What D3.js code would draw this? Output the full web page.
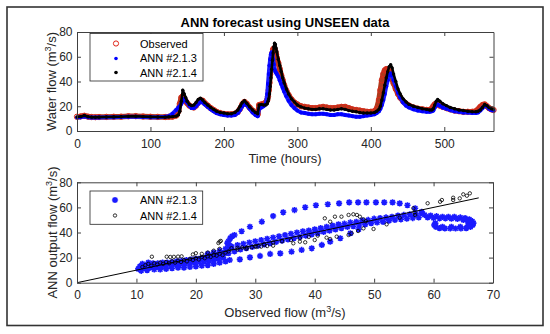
<!DOCTYPE html>
<html>
<head>
<meta charset="utf-8">
<script src="https://cdn.jsdelivr.net/npm/d3@7"></script>
<style>
  body { margin: 0; background: #fff; }
  svg { display: block; font-family: "Liberation Sans", Arial, sans-serif; }
  .axis text { fill: #262626; font-size: 12px; font-family: "Liberation Sans", Arial, sans-serif; }
  .axis line, .axis path { stroke: #404040; }
</style>
</head>
<body>
<svg id="chart" width="550" height="334"></svg>
<script>
// ---- time series (top panel) ----
const hours = [
  0, 5, 10, 15, 20, 25, 30, 40, 50, 60,
  70, 80, 90, 100, 110, 120, 125, 130, 135, 138,
  140, 142, 144, 146, 148, 150, 153, 156, 159, 162,
  165, 168, 171, 174, 178, 182, 186, 190, 195, 200,
  205, 210, 215, 219, 222, 225, 228, 231, 235, 239,
  243, 246, 248, 251, 254, 257, 259, 260, 261, 262,
  263, 264, 265, 266, 267, 268, 269, 270, 271, 272,
  274, 276, 278, 280, 282, 285, 288, 292, 296, 300,
  305, 310, 315, 320, 325, 330, 335, 340, 345, 350,
  355, 360, 365, 370, 375, 380, 385, 390, 395, 400,
  405, 408, 411, 413, 415, 417, 419, 421, 423, 425,
  427, 429, 431, 434, 437, 440, 444, 448, 452, 458,
  464, 470, 476, 480, 483, 485, 487, 489, 491, 494,
  498, 503, 508, 514, 520, 526, 532, 538, 543, 546,
  549, 552, 555, 558, 561, 564, 567
];

const observed = [
  11.5, 11.8, 12.3, 11.6, 11.3, 11.2, 11.3, 11.4, 11.5, 11.6,
  11.9, 12.0, 11.7, 11.5, 11.4, 11.3, 11.5, 11.6, 12.5, 16,
  22, 27, 28, 26, 24, 22.5, 20.5, 19.5, 19, 20.5,
  23, 25, 24.5, 22.5, 20.5, 18.5, 17, 15.5, 14.5, 13.8,
  13.5, 13.5, 14, 15.5, 18, 21.5, 23.5, 22, 19, 16.5,
  14.5, 13.5, 21, 21.5, 22, 23, 25, 28, 33, 39,
  46, 53, 59, 63, 66, 66.5, 66, 64.5, 62, 59,
  55, 50, 45, 41, 37, 32.5, 29, 25.5, 23, 21.5,
  20, 19.5, 19, 18.5, 18.5, 19, 19.5, 19, 18.5, 18.5,
  19, 19.5, 19.5, 18.5, 17.5, 17, 16.5, 16, 15.5, 15.5,
  16, 18, 25, 33, 41, 46, 49, 50, 49.5, 48,
  45.5, 42, 38.5, 34, 30, 27, 24, 22, 20.5, 19,
  18, 17.5, 17, 17, 18, 20, 21.5, 22, 21.5, 20.5,
  19.5, 18.5, 17.5, 16.5, 16, 15.5, 15.5, 15.5, 16, 17.5,
  19.5, 21, 21.5, 20, 18.5, 17.5, 17
];

const ann213 = [
  11, 11.2, 11.8, 11.2, 11, 10.9, 11, 11.1, 11.2, 11.3,
  11.5, 11.6, 11.4, 11.2, 11.2, 11.5, 12, 14, 17, 19,
  20, 22, 24, 26, 25, 23, 20.5, 18.5, 18.5, 20,
  22, 23.5, 23, 21.5, 19.5, 17.5, 16, 14.5, 13.5, 13,
  12.5, 12.5, 13, 14.5, 17, 20, 22, 21, 18, 15,
  13, 12, 18, 19, 20, 22, 30, 38, 46, 53,
  58, 62, 63.5, 62, 58, 54, 50, 48, 47, 46,
  44, 41, 38, 35, 32, 28, 24.5, 21, 18.5, 16.5,
  15, 14.5, 14, 13.5, 13.5, 14, 14, 13.5, 13, 13,
  13.5, 13.5, 13, 12.5, 12, 11.5, 11.5, 12, 12.5, 13,
  13.5, 14.5, 16, 18, 21, 25, 30, 36, 41, 45,
  46.5, 45, 41, 36, 31, 27, 23, 20.5, 19, 17.5,
  16.5, 16, 15.5, 15.5, 16, 16.5, 19, 21, 21.5, 20.5,
  19, 18, 17, 16, 15.5, 15, 15, 14.5, 14.5, 15,
  16.5, 18.5, 20.5, 20, 18, 17, 16.5
];

const ann214 = [
  11.3, 11.6, 12.5, 11.5, 11.2, 11.1, 11.2, 11.3, 11.4, 11.5,
  11.8, 11.9, 11.6, 11.4, 11.3, 11.2, 11.4, 11.6, 12, 13,
  16, 24, 33, 30, 27, 24, 21.5, 20.5, 21, 23,
  25.5, 26.5, 25, 23, 21, 19, 17.5, 16, 15, 14.5,
  14, 14, 15, 17, 20, 23, 24.5, 22.5, 19.5, 17,
  15, 14, 21, 21.5, 21, 21, 22, 24, 26, 30,
  36, 43, 50, 57, 63, 68, 71, 70, 67, 64,
  58, 53, 48, 43, 39, 34, 30, 26, 23.5, 21,
  19.5, 18.5, 18, 17.5, 17.5, 18, 18, 17.5, 17, 17,
  17.5, 18, 17.5, 16.5, 16, 15.5, 15, 14.5, 14.5, 14.5,
  15, 16, 17.5, 20, 25, 31, 37, 43, 48, 52,
  53.5, 51, 46, 40, 34, 30, 26, 23.5, 21.5, 20,
  19, 18, 17.5, 17, 17, 18, 21, 24, 25.5, 24,
  22, 20.5, 19, 18, 17, 16.5, 16, 15.5, 15.5, 16,
  17, 19, 21.5, 20.5, 19, 18, 17.5
];

// ---- scatter (bottom panel): [observed, ANN output] ----
const scatter213 = [
  [10.3, 11], [10.6, 13], [10.8, 9.5], [11, 15], [11.2, 11.5], [11.5, 13.5], [11.8, 10], [12, 16], [12.3, 12],
  [12.8, 15.5], [13.6, 15.5], [14.4, 16], [15.2, 16], [16, 16.5], [16.8, 17], [17.6, 17.5], [18.4, 18],
  [19.2, 18.5], [20, 19], [20.8, 19.5], [21.6, 20], [22.4, 21], [23.2, 22], [24, 23], [24.8, 24],
  [12.6, 13], [13.4, 12.5], [14.2, 13], [15, 13.5], [15.8, 14], [16.6, 14.5], [17.4, 15], [18.2, 15],
  [19, 15.5], [19.8, 16], [20.6, 16.5], [21.4, 17], [22.2, 17.5], [23, 18], [23.8, 19], [24.6, 20],
  [13, 10.5], [14, 10.5], [15, 11], [16, 11.5], [17, 12], [18, 12], [19, 12.5], [20, 13],
  [21, 13.5], [22, 14], [23, 15], [24, 16], [25, 17],
  [25.2, 24], [25.4, 27], [25.9, 29], [25.6, 30], [25.3, 31.5], [25.5, 33], [25.8, 35.5], [26.1, 37],
  [22, 23], [23, 24], [24, 25.5], [25, 27], [26, 28.5], [27, 30], [28, 31], [29, 32], [30, 33],
  [31, 34], [32, 35], [33, 36], [34, 37], [35, 38], [36, 39], [37, 40], [38, 41], [39, 41.5],
  [40, 42.5], [41, 43.5], [42, 44.5], [43, 45.5], [44, 46.5], [45, 47], [46, 48], [47, 48.5],
  [48, 49.5], [49, 50], [50, 51], [51, 51.5], [52, 52], [53, 52.5], [54, 53.5], [55, 54],
  [56, 54.5], [57, 55], [58, 55.5],
  [21.5, 18.5], [22.5, 19.5], [23.5, 20.5], [24.5, 22], [25.5, 23.5], [26.5, 25], [27.5, 26.5],
  [28.5, 27.5], [29.5, 28.5], [30.5, 29.5], [31.5, 30.5], [32.5, 31.5], [33.5, 32.5], [34.5, 33.5],
  [35.5, 34.5], [36.5, 35.5], [37.5, 36.5], [38.5, 37.5], [39.5, 38.5], [40.5, 39.5], [41.5, 40.5],
  [42.5, 41.5], [43.5, 42.5], [44.5, 43.5], [45.5, 44.5], [46.5, 45], [47.5, 46], [48.5, 46.5],
  [49.5, 47.5], [50.5, 48], [51.5, 48.5], [52.5, 49.5], [53.5, 50], [54.5, 50.5], [55.5, 51],
  [56.5, 51.5], [57.5, 52],
  [25.7, 18.1], [27.4, 18.6], [29.1, 20.2], [30.8, 21.3], [32.5, 22.9], [34.2, 23.4], [36.1, 24.7],
  [37.8, 26.1], [39.5, 27.4], [41.2, 30.1], [42.6, 32.7], [44.3, 35.4], [46, 39.4], [47.4, 42.6],
  [26.5, 38], [27.7, 41], [29.1, 44.6], [31.1, 48.6], [33, 53.1], [34.7, 56.1], [36.6, 57.9],
  [38.4, 60.1], [40.2, 61.7], [42.2, 62.5], [44.1, 63.2], [45.8, 64], [47.3, 64], [48.7, 64],
  [50.3, 64], [51.7, 64], [53.1, 64], [54.3, 63.2], [55.6, 61.7], [56.9, 59.3], [58, 56.5],
  [58.5, 54], [59.5, 53.5], [60.5, 53], [61.5, 52.5], [62.5, 52.5], [63.5, 52.5], [64.5, 52],
  [65.3, 51.5], [66, 50.5], [66.5, 49], [66.7, 47.5], [66.6, 46], [66.2, 44.5], [65.5, 43.5],
  [64.6, 43.2], [63.7, 43.2], [62.8, 43.2], [61.9, 43.3], [61, 43.5], [60.4, 44.5], [60.1, 46],
  [60.3, 47.3], [59, 52], [60, 51.5], [61, 51.3], [62, 51.3], [63, 51], [64, 50.8], [65, 50],
  [65.8, 48.5], [66, 47], [65.8, 45.5], [64.5, 44.5], [63, 44.5], [61.5, 44.5]
];

const scatter214 = [
  [11, 12.5], [11.5, 14], [12, 15], [12.5, 13.5], [13, 15.5], [13.5, 14.5], [14, 16], [14.5, 15],
  [15, 16.5], [15.5, 15.5], [16, 17], [16.5, 16], [17, 17.5], [17.5, 16.5], [18, 18], [18.5, 17],
  [19, 19], [19.5, 18], [20, 19.5], [20.5, 18.5], [21, 20.5], [21.5, 19.5], [22, 21], [22.5, 20.5],
  [23, 22], [23.5, 21.5], [24, 23], [24.5, 22], [25, 24],
  [12.6, 20.7], [15.1, 20.7], [15.7, 20.5], [16.3, 20.6], [17, 20.8], [17.6, 21], [19.5, 22.5],
  [20, 23.5], [21, 23], [22, 24], [23, 25.5], [24, 27], [23.8, 31.6], [24, 32.7], [24.2, 33.3],
  [26, 27.5], [27, 27.8], [27.8, 28], [28.6, 28], [29.4, 28.3], [30.2, 28.5], [31, 28.8], [32, 29.2], [33, 29.5],
  [25.5, 25], [27, 26.5], [28.5, 27], [30, 29], [31.5, 30.5], [33, 32], [34.5, 33], [36, 34],
  [37.5, 35.5], [39, 36.5], [40.5, 37.5],
  [41.7, 51.3], [42.6, 48.6], [43.4, 52.6], [44.5, 52.6], [45.7, 54], [46.5, 54.5], [47.1, 54],
  [47.6, 52.6], [48.2, 50.5], [48.6, 49],
  [36.4, 31.4], [37.5, 32.7], [38.4, 32.2], [40, 34], [42, 35.9], [42.6, 34.8], [43.7, 36.7],
  [45.7, 38], [46.2, 39.3], [47.3, 41.2], [48.2, 43.3], [49.9, 42.8], [52.1, 46.5], [54.3, 51.8],
  [56.9, 53.9], [56.8, 56], [56.6, 59.3], [59, 63.3], [61.1, 64.5], [61.4, 65.9], [63.3, 67.7],
  [63.3, 65.9], [64.4, 67.2], [65, 70.4], [65.6, 69.3], [66.1, 71.2]
];

const fitLine = [[0, 0], [67.6, 67.6]];

const timeTicks = [0, 100, 200, 300, 400, 500];
const flowTicks = [0, 20, 40, 60, 80];
const obsTicks = [0, 10, 20, 30, 40, 50, 60, 70];

const svg = d3.select('#chart');

// figure frame
svg.append('rect')
  .attr('x', 7).attr('y', 7).attr('width', 536).attr('height', 318.5)
  .attr('fill', '#fff').attr('stroke', '#333').attr('stroke-width', 1.6);

function drawBox(g, x, y, xTicks, yTicks, iW, iH, padBottom) {
  g.append('g').attr('class', 'axis').attr('transform', `translate(0,${iH})`)
    .call(d3.axisBottom(x).tickValues(xTicks).tickSize(-4).tickSizeOuter(0).tickPadding(padBottom));
  g.append('g').attr('class', 'axis')
    .call(d3.axisTop(x).tickValues(xTicks).tickSize(-4).tickSizeOuter(0).tickFormat(''));
  g.append('g').attr('class', 'axis')
    .call(d3.axisLeft(y).tickValues(yTicks).tickSize(-4).tickSizeOuter(0).tickPadding(4.5));
  g.append('g').attr('class', 'axis').attr('transform', `translate(${iW},0)`)
    .call(d3.axisRight(y).tickValues(yTicks).tickSize(-4).tickSizeOuter(0).tickFormat(''));
}

function unitLabel(sel, prefix) {
  sel.append('tspan').text(prefix + ' (m');
  sel.append('tspan').attr('font-size', 9).attr('dy', -5).text('3');
  sel.append('tspan').attr('dy', 5).text('/s)');
}

// ---- top panel ----
const m1 = { left: 77, top: 32, w: 416.5, h: 99 };
const x1 = d3.scaleLinear().domain([0, 567]).range([0, m1.w]);
const y1 = d3.scaleLinear().domain([0, 80]).range([m1.h, 0]);
const g1 = svg.append('g').attr('transform', `translate(${m1.left},${m1.top})`);

const rows = hours.map((h, i) => ({ h, obs: observed[i], a: ann213[i], b: ann214[i] }));
const lineOf = key => d3.line().x(d => x1(d.h)).y(d => y1(d[key]));

g1.append('path').datum(rows).attr('d', lineOf('obs'))
  .attr('fill', 'none').attr('stroke', '#b03a1c').attr('stroke-width', 5.5)
  .attr('stroke-linejoin', 'round');
g1.selectAll('.obs').data(rows).join('circle').attr('class', 'obs')
  .attr('cx', d => x1(d.h)).attr('cy', d => y1(d.obs)).attr('r', 2.7)
  .attr('fill', 'none').attr('stroke', '#d82a1a').attr('stroke-width', 1);

g1.append('path').datum(rows).attr('d', lineOf('a'))
  .attr('fill', 'none').attr('stroke', '#1a1aff').attr('stroke-width', 4)
  .attr('stroke-linejoin', 'round');
g1.selectAll('.a213').data(rows).join('circle').attr('class', 'a213')
  .attr('cx', d => x1(d.h)).attr('cy', d => y1(d.a)).attr('r', 2).attr('fill', '#0000ff');

g1.append('path').datum(rows).attr('d', lineOf('b'))
  .attr('fill', 'none').attr('stroke', '#000').attr('stroke-width', 2.6)
  .attr('stroke-linejoin', 'round');
g1.selectAll('.a214').data(rows).join('circle').attr('class', 'a214')
  .attr('cx', d => x1(d.h)).attr('cy', d => y1(d.b)).attr('r', 1.7).attr('fill', '#000');

drawBox(g1, x1, y1, timeTicks, flowTicks, m1.w, m1.h, 8);

// legend (top)
const lg1 = svg.append('g');
lg1.append('rect').attr('x', 90).attr('y', 33.5).attr('width', 113).attr('height', 47.5)
  .attr('fill', '#fff').attr('stroke', '#262626').attr('stroke-width', 0.8);
lg1.append('circle').attr('cx', 116).attr('cy', 43.5).attr('r', 2.6)
  .attr('fill', 'none').attr('stroke', '#e02418').attr('stroke-width', 1);
lg1.append('circle').attr('cx', 116).attr('cy', 58.5).attr('r', 1.8).attr('fill', '#0000ff');
lg1.append('circle').attr('cx', 116).attr('cy', 72.5).attr('r', 1.8).attr('fill', '#000');
['Observed', 'ANN #2.1.3', 'ANN #2.1.4'].forEach((t, i) => {
  lg1.append('text').attr('x', 140).attr('y', 47.5 + i * 14.5)
    .attr('font-size', 11).attr('fill', '#000').text(t);
});

// labels (top)
svg.append('text').attr('x', 285).attr('y', 26.5).attr('text-anchor', 'middle')
  .attr('font-size', 13).attr('font-weight', 'bold').attr('fill', '#000')
  .text('ANN forecast using UNSEEN data');
svg.append('text').attr('x', 285).attr('y', 163).attr('text-anchor', 'middle')
  .attr('font-size', 13).attr('fill', '#262626').text('Time (hours)');
unitLabel(svg.append('text').attr('transform', 'translate(56,81.5) rotate(-90)')
  .attr('text-anchor', 'middle').attr('font-size', 13).attr('fill', '#262626'), 'Water flow');

// ---- bottom panel ----
const m2 = { left: 77, top: 182.3, w: 416, h: 100.4 };
const x2 = d3.scaleLinear().domain([0, 70]).range([0, m2.w]);
const y2 = d3.scaleLinear().domain([0, 80]).range([m2.h, 0]);
const g2 = svg.append('g').attr('transform', `translate(${m2.left},${m2.top})`);

const star = s => `M${-s},0H${s}M0,${-s}V${s}M${-0.72 * s},${-0.72 * s}L${0.72 * s},${0.72 * s}M${-0.72 * s},${0.72 * s}L${0.72 * s},${-0.72 * s}`;

g2.selectAll('.s213').data(scatter213).join('path').attr('class', 's213')
  .attr('transform', d => `translate(${x2(d[0])},${y2(d[1])})`)
  .attr('d', star(3.1)).attr('fill', 'none').attr('stroke', '#1a1aff').attr('stroke-width', 1.6);

g2.selectAll('.s214').data(scatter214).join('circle').attr('class', 's214')
  .attr('cx', d => x2(d[0])).attr('cy', d => y2(d[1])).attr('r', 1.7)
  .attr('fill', 'none').attr('stroke', '#000').attr('stroke-width', 0.8);

g2.append('path').datum(fitLine)
  .attr('d', d3.line().x(d => x2(d[0])).y(d => y2(d[1])))
  .attr('fill', 'none').attr('stroke', '#000').attr('stroke-width', 1);

drawBox(g2, x2, y2, obsTicks, flowTicks, m2.w, m2.h, 7.5);

// legend (bottom)
const lg2 = svg.append('g');
lg2.append('rect').attr('x', 90).attr('y', 191).attr('width', 112.7).attr('height', 33.3)
  .attr('fill', '#fff').attr('stroke', '#262626').attr('stroke-width', 0.8);
lg2.append('path').attr('transform', 'translate(115,200)').attr('d', star(3.1))
  .attr('fill', 'none').attr('stroke', '#1a1aff').attr('stroke-width', 1.6);
lg2.append('circle').attr('cx', 115).attr('cy', 215.5).attr('r', 1.7)
  .attr('fill', 'none').attr('stroke', '#000').attr('stroke-width', 0.8);
['ANN #2.1.3', 'ANN #2.1.4'].forEach((t, i) => {
  lg2.append('text').attr('x', 140).attr('y', 204 + i * 15.5)
    .attr('font-size', 11).attr('fill', '#000').text(t);
});

svg.append('text').attr('x', 285).attr('y', 316.5).attr('text-anchor', 'middle')
  .call(unitLabel, 'Observed flow')
  .attr('font-size', 13).attr('fill', '#262626');
unitLabel(svg.append('text').attr('transform', 'translate(57,232.5) rotate(-90)')
  .attr('text-anchor', 'middle').attr('font-size', 13).attr('fill', '#262626'), 'ANN output flow');
</script>
</body>
</html>
